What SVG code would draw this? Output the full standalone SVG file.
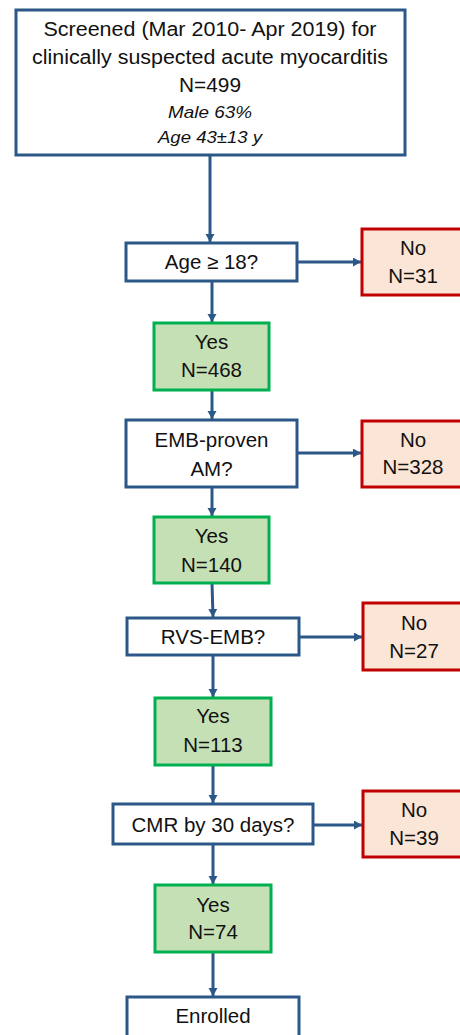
<svg xmlns="http://www.w3.org/2000/svg" width="460" height="1035" viewBox="0 0 460 1035">
<defs>
<style>
text{font-family:"Liberation Sans",Arial,sans-serif;font-size:20.5px;fill:#111;text-anchor:middle}
.t{font-size:19.5px}
.it{font-style:italic;font-size:16.5px}
.q{fill:#fff;stroke:#2B5887;stroke-width:3}
.y{fill:#C5E0B4;stroke:#00B050;stroke-width:3}
.n{fill:#FBE5D6;stroke:#C00000;stroke-width:3}
.c{stroke:#2B5887;stroke-width:3;fill:none}
</style>
<marker id="ah" markerUnits="userSpaceOnUse" markerWidth="10" markerHeight="10" refX="8" refY="4.5" orient="auto">
<path d="M0,0 L8,4.5 L0,9 z" fill="#2B5887"/>
</marker>
</defs>
<rect width="460" height="1035" fill="#fff"/>
<g id="connectors">
<line class="c" x1="210" y1="155" x2="210" y2="242" marker-end="url(#ah)"/>
<line class="c" x1="297" y1="262" x2="361" y2="262" marker-end="url(#ah)"/>
<line class="c" x1="212" y1="281" x2="212" y2="322" marker-end="url(#ah)"/>
<line class="c" x1="212" y1="390" x2="212" y2="419" marker-end="url(#ah)"/>
<line class="c" x1="297" y1="453" x2="361" y2="453" marker-end="url(#ah)"/>
<line class="c" x1="212" y1="487" x2="212" y2="516" marker-end="url(#ah)"/>
<line class="c" x1="212" y1="583" x2="213" y2="617" marker-end="url(#ah)"/>
<line class="c" x1="299" y1="637" x2="362" y2="637" marker-end="url(#ah)"/>
<line class="c" x1="213" y1="655" x2="213" y2="697" marker-end="url(#ah)"/>
<line class="c" x1="213" y1="765" x2="213" y2="803" marker-end="url(#ah)"/>
<line class="c" x1="313" y1="825" x2="362" y2="825" marker-end="url(#ah)"/>
<line class="c" x1="213" y1="844" x2="213" y2="884" marker-end="url(#ah)"/>
<line class="c" x1="213" y1="952" x2="213" y2="996" marker-end="url(#ah)"/>
</g>
<g id="screened">
<rect class="q" x="16" y="10" width="389" height="145"/>
<text class="t" x="210" y="36" textLength="333" lengthAdjust="spacingAndGlyphs">Screened (Mar 2010- Apr 2019) for</text>
<text class="t" x="210" y="64" textLength="356" lengthAdjust="spacingAndGlyphs">clinically suspected acute myocarditis</text>
<text class="t" x="210" y="92" textLength="62" lengthAdjust="spacingAndGlyphs">N=499</text>
<text class="it" x="210" y="118" textLength="84" lengthAdjust="spacingAndGlyphs">Male 63%</text>
<text class="it" x="210" y="143" textLength="104" lengthAdjust="spacingAndGlyphs">Age 43±13 y</text>
</g>
<g id="age">
<rect class="q" x="126" y="243" width="171" height="38"/>
<text x="211.5" y="269">Age ≥ 18?</text>
</g>
<g id="no31">
<rect class="n" x="362" y="229" width="102" height="66"/>
<text x="413" y="255">No</text>
<text x="413" y="283">N=31</text>
</g>
<g id="yes468">
<rect class="y" x="154" y="323" width="115" height="67"/>
<text x="211.5" y="349">Yes</text>
<text x="211.5" y="377">N=468</text>
</g>
<g id="emb">
<rect class="q" x="126" y="420" width="171" height="67"/>
<text x="211.5" y="447">EMB-proven</text>
<text x="211.5" y="476">AM?</text>
</g>
<g id="no328">
<rect class="n" x="362" y="421" width="102" height="66"/>
<text x="413" y="447">No</text>
<text x="413" y="474">N=328</text>
</g>
<g id="yes140">
<rect class="y" x="154" y="517" width="115" height="66"/>
<text x="211.5" y="543">Yes</text>
<text x="211.5" y="572">N=140</text>
</g>
<g id="rvs">
<rect class="q" x="127" y="618" width="172" height="37"/>
<text x="213" y="644">RVS-EMB?</text>
</g>
<g id="no27">
<rect class="n" x="363" y="603" width="102" height="67"/>
<text x="414" y="630">No</text>
<text x="414" y="658">N=27</text>
</g>
<g id="yes113">
<rect class="y" x="155" y="698" width="116" height="67"/>
<text x="213" y="723">Yes</text>
<text x="213" y="752">N=113</text>
</g>
<g id="cmr">
<rect class="q" x="113" y="804" width="200" height="40"/>
<text x="213" y="832">CMR by 30 days?</text>
</g>
<g id="no39">
<rect class="n" x="363" y="791" width="102" height="66"/>
<text x="414" y="817">No</text>
<text x="414" y="845">N=39</text>
</g>
<g id="yes74">
<rect class="y" x="155" y="885" width="116" height="67"/>
<text x="213" y="912">Yes</text>
<text x="213" y="939">N=74</text>
</g>
<g id="enrolled">
<rect class="q" x="127" y="997" width="172" height="45"/>
<text x="213" y="1023">Enrolled</text>
</g>
</svg>
